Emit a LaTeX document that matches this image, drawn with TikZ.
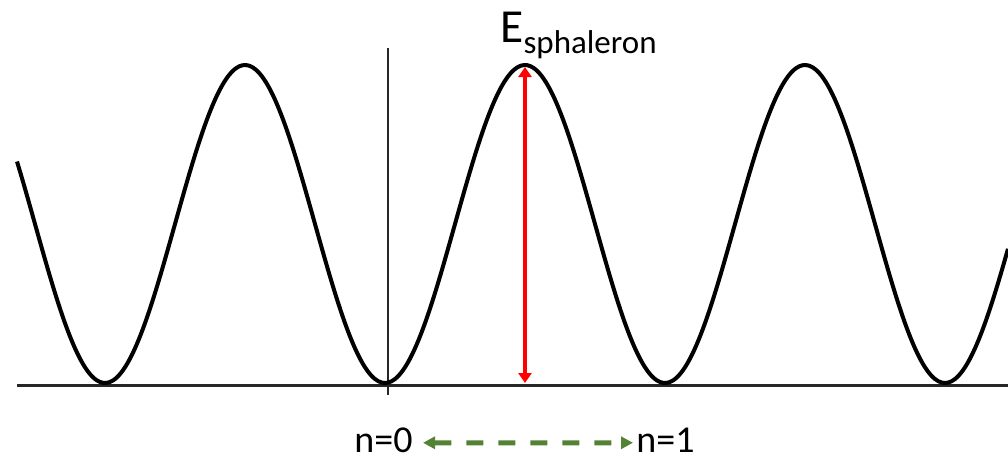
\documentclass[tikz,border=0pt]{standalone}
\usepackage{fontspec}
\setmainfont{Carlito}
\usepackage{xcolor}
\usepackage{tikz}
\usetikzlibrary{arrows.meta, positioning}
\definecolor{arrowgreen}{RGB}{84,130,53}
\tikzset{
  potential/.style={line width=2pt, black, line join=round},
  axisline/.style={line width=1.2pt, black!85},
  barrier/.style={{Triangle[length=5pt, width=6.5pt]}-{Triangle[length=5pt, width=6.5pt]}, line width=2pt, red},
  hop/.style={{Triangle[length=6pt, width=6pt]}-{Triangle[length=6pt, width=6pt]}, line width=2.5pt, arrowgreen, dash pattern=on 8.5pt off 7.5pt},
  vacuum/.style={inner sep=0pt, font=\fontsize{19}{22}\selectfont},
}

\begin{document}
\begin{tikzpicture}[x=0.5pt, y=0.5pt]
  \useasboundingbox (0,0) rectangle (1008,457);

  % Axes
  \coordinate (xl) at (17,72);
  \coordinate (xr) at (1008,72);
  \coordinate (yb) at (388,62);
  \coordinate (yt) at (388,409);
  \draw[axisline, line width=1.5pt] (xl) -- (xr);
  \draw[axisline] (yb) -- (yt);

  % Periodic potential
  \draw[potential] plot[domain=17:1008, samples=300, smooth]
    (\x, {233 - 159*cos(1.285714*(\x-385))});

  % Barrier height
  \coordinate (peak) at (525,390);
  \coordinate (floor) at (525,74);
  \draw[barrier] (peak) -- (floor);
  \node[inner sep=0pt, anchor=base west] (esph) at (500,415)
    {\fontsize{23.7}{28}\selectfont E\raisebox{-5.5pt}{\fontsize{16.5}{20}\selectfont sphaleron}};

  % Vacua
  \node[vacuum, anchor=base east] (n0) at (413,5) {n=0};
  \node[vacuum, anchor=base west] (n1) at (636,5) {n=1};
  \draw[hop, shorten <=5pt, shorten >=1.5pt] ([yshift=-1.5pt]n0.east) -- ([yshift=-1.5pt]n1.west);

\end{tikzpicture}
\end{document}
